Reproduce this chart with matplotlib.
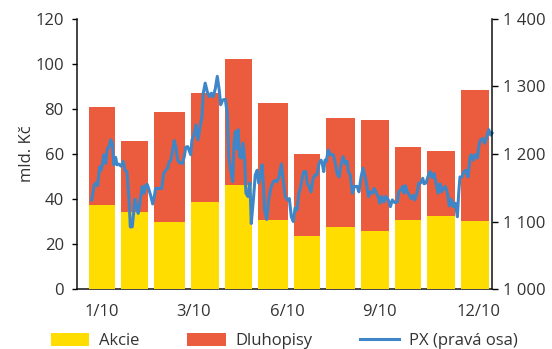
import matplotlib
matplotlib.use("Agg")
import matplotlib.pyplot as plt
from matplotlib.patches import Patch
from matplotlib.lines import Line2D

plt.rcParams['font.family'] = ['Open Sans', 'DejaVu Sans']

# Monthly data (2010): trading days per month, equities and bonds (bn CZK)
months = ["1/10", "2/10", "3/10", "4/10", "5/10", "6/10",
          "7/10", "8/10", "9/10", "10/10", "11/10", "12/10"]
trading_days = [20, 20, 23, 21, 21, 22, 20, 22, 21, 20, 21, 21]
akcie = [37.5, 34.2, 29.8, 38.7, 46.2, 30.7, 23.6, 27.6, 25.8, 30.7, 32.4, 30.2]
total = [81.0, 65.8, 78.7, 87.1, 102.2, 82.7, 60.0, 76.0, 75.1, 63.1, 61.3, 88.4]
dluhopisy = [t - a for t, a in zip(total, akcie)]

# PX index (right axis): trading-day index and value
px_day = [1.5, 3.1, 4.2, 5.2, 6.5, 7.3, 8.1, 9.1, 10.2, 11.2, 12.2, 13.3, 14.3, 15.3, 16.4,
          17.2, 18.4, 19.7, 21.1, 22.2, 23.4, 24.7, 25.5, 26.7, 28.4, 29.6, 30.4, 31.7, 32.9,
          34.0, 35.0, 36.0, 37.1, 38.3, 39.4, 40.4, 41.2, 43.3, 45.0, 46.2, 47.5, 48.7, 49.7,
          50.7, 51.6, 52.8, 53.9, 54.9, 56.1, 57.8, 59.0, 59.9, 61.1, 63.0, 63.8, 65.0, 66.3,
          67.5, 68.8, 70.0, 70.8, 72.0, 73.3, 74.5, 75.8, 77.0, 78.3, 79.5, 80.7, 81.6, 82.9,
          84.5, 85.7, 86.6, 87.8, 89.1, 89.9, 90.7, 91.6, 92.4, 93.4, 94.4, 95.5, 96.5, 97.3,
          98.6, 99.8, 100.6, 101.9, 103.1, 104.3, 105.2, 106.5, 107.3, 108.1, 108.9, 110.2,
          111.4, 112.7, 113.9, 115.2, 116.4, 117.6, 119.3, 120.5, 121.7, 123.0, 124.2, 125.5,
          126.7, 127.8, 129.0, 130.2, 131.1, 132.3, 133.2, 134.4, 135.4, 136.5, 137.7, 139.0,
          140.2, 141.4, 142.7, 143.9, 144.7, 145.6, 146.4, 147.2, 148.4, 149.7, 151.4, 152.6,
          153.9, 155.1, 156.1, 157.6, 158.8, 160.1, 160.9, 162.1, 163.4, 164.6, 166.3, 167.5,
          168.8, 170.0, 171.3, 172.1, 173.4, 174.5, 175.8, 177.0, 178.3, 179.5, 180.4, 181.6,
          182.9, 184.1, 185.7, 187.0, 188.2, 189.7, 191.3, 192.2, 193.4, 194.7, 195.5, 196.3,
          197.5, 198.8, 200.0, 201.2, 202.1, 203.4, 204.6, 205.8, 207.1, 207.9, 209.1, 210.4,
          211.6, 212.9, 214.1, 215.3, 216.6, 217.8, 218.6, 219.9, 221.1, 222.4, 223.6, 224.8,
          226.1, 227.3, 228.6, 229.4, 230.2, 231.5, 232.7, 234.0, 235.2, 236.5, 237.3, 238.5,
          239.8, 241.0, 242.2, 243.1, 244.3, 245.6, 246.8, 248.1, 249.3, 250.1]
px_val = [1132, 1154, 1157, 1153, 1181, 1176, 1184, 1199, 1186, 1208, 1210, 1221, 1216, 1184, 1195,
          1184, 1185, 1182, 1189, 1176, 1174, 1132, 1092, 1092, 1133, 1122, 1112, 1132, 1152,
          1142, 1153, 1155, 1147, 1137, 1126, 1137, 1149, 1149, 1149, 1171, 1176, 1179, 1189,
          1191, 1203, 1220, 1208, 1191, 1187, 1186, 1196, 1210, 1211, 1199, 1221, 1228, 1243,
          1221, 1240, 1255, 1290, 1305, 1292, 1285, 1290, 1285, 1297, 1315, 1295, 1273, 1280,
          1281, 1260, 1196, 1176, 1159, 1216, 1233, 1208, 1236, 1196, 1194, 1216, 1191, 1142,
          1137, 1157, 1097, 1132, 1169, 1176, 1157, 1171, 1184, 1157, 1117, 1103,
          1132, 1149, 1157, 1161, 1159, 1164, 1185, 1161, 1137, 1132, 1134, 1107,
          1100, 1120, 1117, 1142, 1149, 1166, 1174, 1174, 1156, 1152, 1144, 1164,
          1169, 1169, 1186, 1191, 1186, 1174, 1191, 1189, 1206, 1199, 1199, 1189,
          1171, 1166, 1181, 1196, 1186, 1189, 1174, 1169, 1142, 1152, 1152, 1144,
          1166, 1179, 1166, 1157, 1137, 1144, 1142, 1149, 1142, 1137, 1127, 1137,
          1129, 1137, 1132, 1122, 1132, 1128, 1129, 1144, 1147, 1152, 1142, 1153,
          1144, 1139, 1134, 1139, 1132, 1141, 1157, 1157, 1164, 1156, 1157, 1167,
          1174, 1165, 1171, 1157, 1142, 1156, 1144, 1149, 1152, 1142, 1123, 1133,
          1122, 1127, 1107, 1142, 1166, 1166, 1174, 1176, 1166, 1196, 1199, 1191,
          1199, 1194, 1216, 1221, 1223, 1216, 1226, 1236, 1228, 1231]

xtick_pos = [7.7, 64.6, 122.8, 180.5, 242.0]
xtick_labels = ["1/10", "3/10", "6/10", "9/10", "12/10"]

C_AKCIE = "#FFDD00"
C_DLUH = "#EA5C3D"
C_PX = "#3F86C8"
TXT = "#333333"
FS = 12

fig = plt.figure(figsize=(5.52, 3.49), dpi=100)
ax = fig.add_axes([77/552, 1-289/349, (491.7-77)/552, 270/349])

starts = [sum(trading_days[:i]) for i in range(len(trading_days))]
widths = [d - 3.7 for d in trading_days]
ax.bar(starts, akcie, width=widths, align='edge', color=C_AKCIE, zorder=3, linewidth=0)
ax.bar(starts, dluhopisy, width=widths, bottom=akcie, align='edge', color=C_DLUH, zorder=3, linewidth=0)

ax.set_xlim(-7.6, 249.9)
ax.set_ylim(0, 120)
ax.set_yticks(range(0, 121, 20))
ax.set_xticks(xtick_pos)
ax.set_xticklabels(xtick_labels)
ax.tick_params(axis='x', length=0, pad=11, labelsize=FS, labelcolor=TXT)
ax.tick_params(axis='y', length=3.5, width=1, pad=6, labelsize=FS, labelcolor=TXT, direction='out')
ax.set_ylabel("mld. Kč", fontsize=FS, color=TXT, labelpad=0)
for s in ['top', 'right']:
    ax.spines[s].set_visible(False)
for s in ['left', 'bottom']:
    ax.spines[s].set_color('#111111')
    ax.spines[s].set_linewidth(1.1)
ax.spines['bottom'].set_zorder(1)

ax2 = ax.twinx()
ax2.plot(px_day, px_val, color=C_PX, lw=2.2, clip_on=False, solid_joinstyle='round')
ax2.set_ylim(1000, 1400)
ax2.set_yticks(range(1000, 1401, 100))
ax2.yaxis.set_major_formatter(matplotlib.ticker.FuncFormatter(lambda v, p: f"{int(v):,}".replace(",", " ")))
ax2.tick_params(axis='y', length=4, width=1, pad=4, labelsize=FS, labelcolor=TXT, direction='out')
for s in ['top', 'left', 'bottom']:
    ax2.spines[s].set_visible(False)
ax2.spines['right'].set_color('#111111')
ax2.spines['right'].set_linewidth(1.1)

handles = [Patch(facecolor=C_AKCIE, edgecolor='none'),
           Patch(facecolor=C_DLUH, edgecolor='none'),
           Line2D([0], [0], color=C_PX, lw=2.2)]
fig.legend(handles, ["Akcie", "Dluhopisy", "PX (pravá osa)"], loc='center',
           bbox_to_anchor=(0.515, 0.022), ncol=3, frameon=False, fontsize=FS,
           handlelength=2.3, handleheight=0.75, handletextpad=0.6, columnspacing=2.85,
           labelcolor=TXT, borderaxespad=0, borderpad=0)

fig.savefig("out.png", dpi=100)
